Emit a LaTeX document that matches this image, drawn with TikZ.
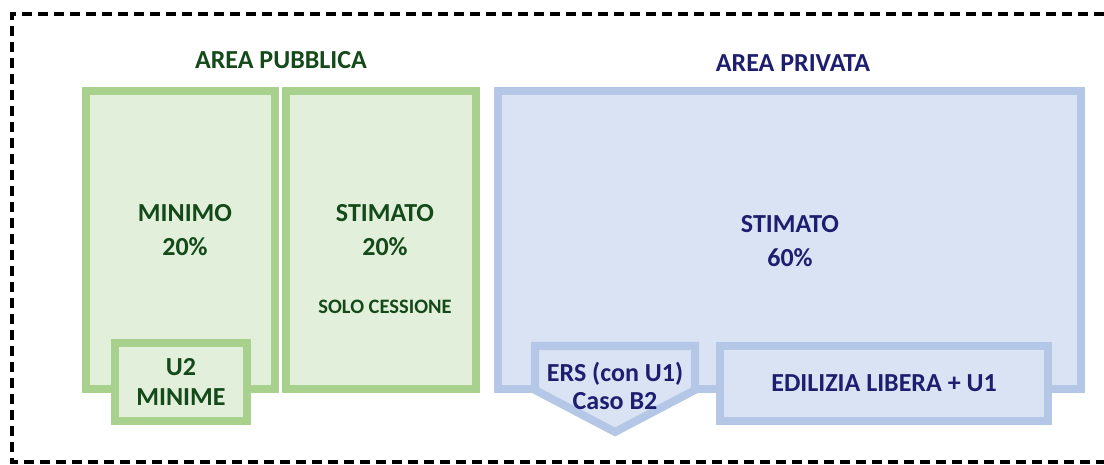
\documentclass[tikz,border=0pt]{standalone}
\usepackage{fontspec}
\setmainfont{Carlito}
\usepackage{tikz}
\definecolor{verdebordo}{RGB}{169,209,142}
\definecolor{verdefondo}{RGB}{226,239,218}
\definecolor{verdetesto}{RGB}{20,74,26}
\definecolor{blubordo}{RGB}{180,199,231}
\definecolor{blufondo}{RGB}{218,227,243}
\definecolor{blutesto}{RGB}{30,30,112}

\begin{document}
\begin{tikzpicture}[x=1pt,y=-1pt,
        pubblica/.style={draw=verdebordo, fill=verdefondo, line width=8pt, inner sep=0pt},
        privata/.style={draw=blubordo, fill=blufondo, line width=8pt, inner sep=0pt, line join=miter},
        testov/.style={text=verdetesto, font=\bfseries\fontsize{26}{34}\selectfont, align=center},
        testob/.style={text=blutesto, font=\bfseries\fontsize{26}{34}\selectfont, align=center}]
    \useasboundingbox (0,0) rectangle (1104,465);
    % Cornice tratteggiata
    \draw[line width=4pt, dash pattern=on 10pt off 6pt] (1120,14) -- (12,14) -- (12,462) -- (1120,462);

    % Titoli
    \node[testov] (titpub) at (281,60) {AREA PUBBLICA};
    \node[testob] (titpriv) at (793,63) {AREA PRIVATA};

    % Area pubblica
    \node[pubblica, minimum width=189pt, minimum height=298pt] (minimo) at (180.5,240) {};
    \node[pubblica, minimum width=190pt, minimum height=298pt] (stimpub) at (381,240) {};
    \node[pubblica, minimum width=132pt, minimum height=78pt] (u2) at (181,382) {};
    \node[testov] at (185,230) {MINIMO\\20\%};
    \node[testov] at (385,230) {STIMATO\\20\%};
    \node[text=verdetesto, font=\bfseries\fontsize{20.5}{24}\selectfont] (cessione) at (385,307) {SOLO CESSIONE};
    \node[testov, font=\bfseries\fontsize{26}{30}\selectfont] (u2testo) at (u2) {U2\\MINIME};

    % Area privata
    \node[privata, minimum width=583pt, minimum height=298pt] (stimpriv) at (789.5,240) {};
    \node[testob] at (790,241) {STIMATO\\60\%};
    \draw[privata] (535,346) -- (695,346) -- (695,390) -- (615,432) -- (535,390) -- cycle; % freccia ERS
    \node[testob, font=\bfseries\fontsize{26}{28}\selectfont] (ers) at (615,386) {ERS (con U1)\\Caso B2};
    \node[privata, minimum width=328pt, minimum height=75pt] (edilizia) at (884,383.5) {};
    \node[testob] at (edilizia) {EDILIZIA LIBERA + U1};
\end{tikzpicture}
\end{document}
